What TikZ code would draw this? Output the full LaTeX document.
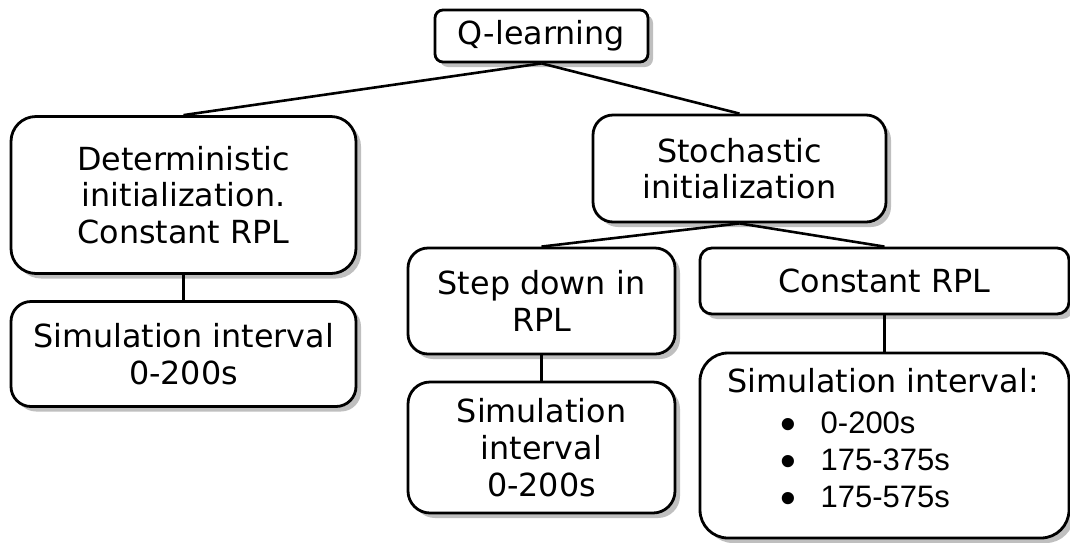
\documentclass[tikz,border=0pt]{standalone}
\usepackage{fontspec}
\newfontfamily\verd{DejaVu Sans}
\newfontfamily\ari{Liberation Sans}
\usetikzlibrary{shadows}
\newcommand{\bigbul}{\makebox[10.5pt][c]{\smash{\raisebox{-6.5pt}{\scalebox{1.45}{•}}}}}
\begin{document}
\begin{tikzpicture}[x=1pt,y=-1pt,
  box/.style={draw=black, line width=2.8pt, fill=white, align=center,
    inner sep=0pt, font=\verd\fontsize{31.8}{36.7}\selectfont,
    drop shadow={shadow xshift=5pt, shadow yshift=-5pt, fill=black!25, opacity=1}},
  link/.style={line width=2.6pt, draw=black}]
\useasboundingbox (0,0) rectangle (1070,542);
\node[box, rounded corners=8pt, minimum width=213pt, minimum height=52pt] (q) at (541.5,36) {Q-learning};
\node[box, rounded corners=25pt, minimum width=345pt, minimum height=157pt] (det) at (183.5,195) {Deterministic\\initialization.\\Constant RPL};
\node[box, rounded corners=20pt, minimum width=345pt, minimum height=105pt] (simL) at (183.5,354) {Simulation interval\\0-200s};
\node[box, rounded corners=20pt, minimum width=293pt, minimum height=107pt] (sto) at (739.5,168.5) {Stochastic\\initialization};
\node[box, rounded corners=20pt, minimum width=267pt, minimum height=106pt] (step) at (541.5,301) {Step down in\\RPL};
\node[box, rounded corners=22pt, minimum width=267pt, minimum height=131pt] (simM) at (541.5,447.5) {Simulation\\interval\\0-200s};
\node[box, rounded corners=12pt, minimum width=369pt, minimum height=66pt] (con) at (884.5,281) {Constant RPL};
\node[box, rounded corners=28pt, minimum width=369pt, minimum height=185pt] (simR) at (884.5,445.5) {};
\node[font=\verd\fontsize{31.8}{36.7}\selectfont, anchor=base, inner sep=0pt] (simRt) at (883,392) {Simulation interval:};
\node[font=\ari\fontsize{31}{37}\selectfont, anchor=base west, align=left, inner sep=0pt] (simRl) at (783,507) {\bigbul\hspace{27pt}0-200s\\\bigbul\hspace{27pt}175-375s\\\bigbul\hspace{27pt}175-575s};
\draw[link] (q.south) -- (det.north);
\draw[link] (q.south) -- (sto.north);
\draw[link] (sto.south) -- (step.north);
\draw[link] (sto.south) -- (con.north);
\draw[link] (det.south) -- (simL.north);
\draw[link] (step.south) -- (simM.north);
\draw[link] (con.south) -- (simR.north);
\end{tikzpicture}
\end{document}
